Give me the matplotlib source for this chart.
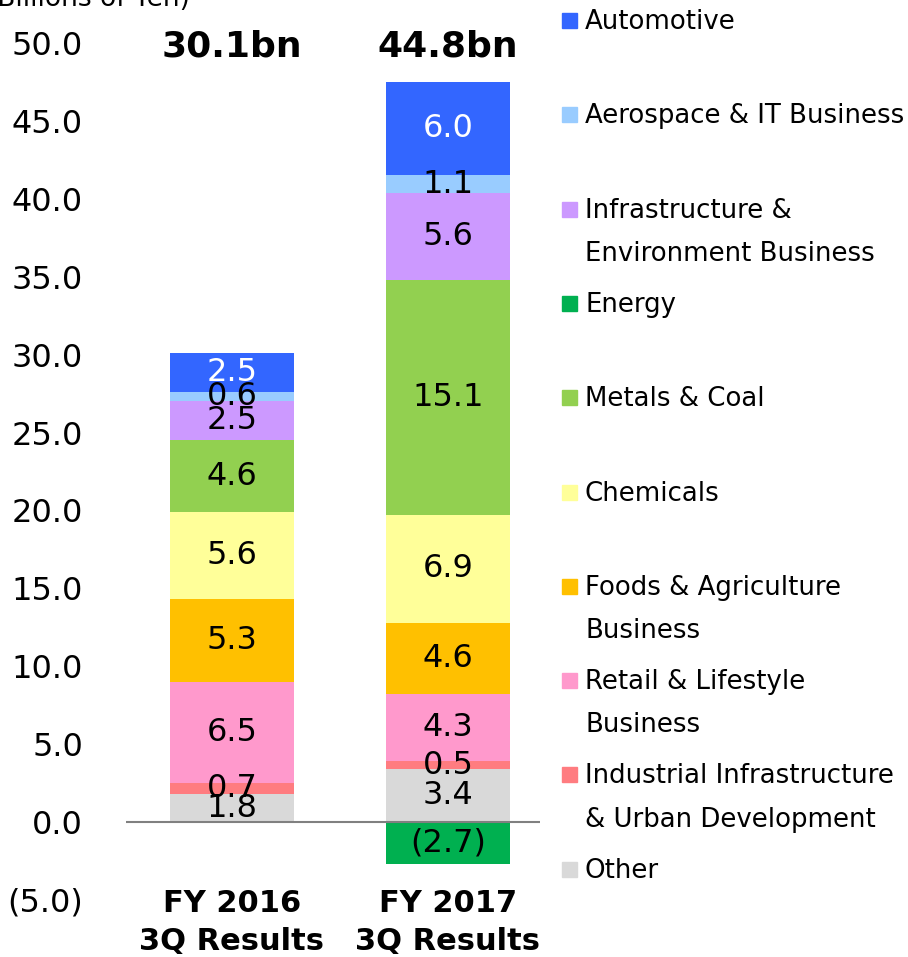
import numpy as np
import matplotlib
matplotlib.use("Agg")
import matplotlib.pyplot as plt
from matplotlib.patches import Rectangle

# segments, bottom of the stack first
segmentos = ["Other", "Industrial Infrastructure\n& Urban Development",
             "Retail & Lifestyle\nBusiness", "Foods & Agriculture\nBusiness",
             "Chemicals", "Metals & Coal", "Energy",
             "Infrastructure &\nEnvironment Business",
             "Aerospace & IT Business", "Automotive"]
colores = ["#D9D9D9", "#FF7C80", "#FF99CC", "#FFC000", "#FFFF99",
           "#92D050", "#00B050", "#CC99FF", "#99CCFF", "#3366FF"]
fy2016 = [1.8, 0.7, 6.5, 5.3, 5.6, 4.6, 0.0, 2.5, 0.6, 2.5]
fy2017 = [3.4, 0.5, 4.3, 4.6, 6.9, 15.1, -2.7, 5.6, 1.1, 6.0]
periodos = ["FY 2016\n3Q Results", "FY 2017\n3Q Results"]
totales = ["30.1bn", "44.8bn"]
yticks = [-5, 0, 5, 10, 15, 20, 25, 30, 35, 40, 45, 50]

def etiquetaY(v):
    if v < 0:
        return "({:.1f})".format(-v)
    return "{:.1f}".format(v)

W, H = 908, 957
fig = plt.figure(figsize=(W / 100, H / 100), dpi=100)
ax = fig.add_axes([126 / W, 1 - 900 / H, 414 / W, 857 / H])

x = np.arange(len(periodos))
ancho = 0.574
datos = np.array([fy2016, fy2017])
basePos = np.zeros(len(periodos))
baseNeg = np.zeros(len(periodos))
for i, nombre in enumerate(segmentos):
    vals = datos[:, i]
    bottoms = np.where(vals >= 0, basePos, baseNeg)
    ax.bar(x, vals, ancho, bottom=bottoms, color=colores[i], linewidth=0, zorder=2)
    for j, v in enumerate(vals):
        if v == 0:
            continue
        color = "white" if nombre == "Automotive" else "black"
        ax.text(x[j], bottoms[j] + v / 2, etiquetaY(v), ha="center", va="center",
                fontsize=23, color=color, zorder=3)
    basePos = basePos + np.where(vals >= 0, vals, 0)
    baseNeg = baseNeg + np.where(vals < 0, vals, 0)

for j, t in enumerate(totales):
    ax.text(x[j], 49.8, t, ha="center", va="center", fontsize=26, fontweight="bold")

ax.axhline(0, color="#808080", linewidth=1.5, zorder=4)
ax.set_xlim(-0.49, 1.426)
ax.set_ylim(-5, 50)
ax.set_yticks(yticks)
ax.set_yticklabels([etiquetaY(v) for v in yticks], fontsize=23)
ax.set_xticks(x)
ax.set_xticklabels(periodos, fontsize=22, fontweight="bold", linespacing=1.4)
ax.tick_params(axis="y", length=0, pad=31)
ax.tick_params(axis="x", length=0, pad=-8)
for s in ax.spines.values():
    s.set_visible(False)

fig.text(190 / W, 1 - 6 / H, "(Billions of Yen)", ha="right", va="baseline", fontsize=19)

# legend drawn by hand, top entry first
for k, i in enumerate(range(len(segmentos) - 1, -1, -1)):
    yc = 20 + 94.3 * k
    fig.patches.append(Rectangle((562 / W, 1 - (yc + 8) / H), 15 / W, 15 / H,
                                 transform=fig.transFigure, color=colores[i]))
    fig.text(585 / W, 1 - (yc - 11) / H, segmentos[i], ha="left", va="top",
             fontsize=18.7, linespacing=1.86)

fig.savefig("out.png", dpi=100)
